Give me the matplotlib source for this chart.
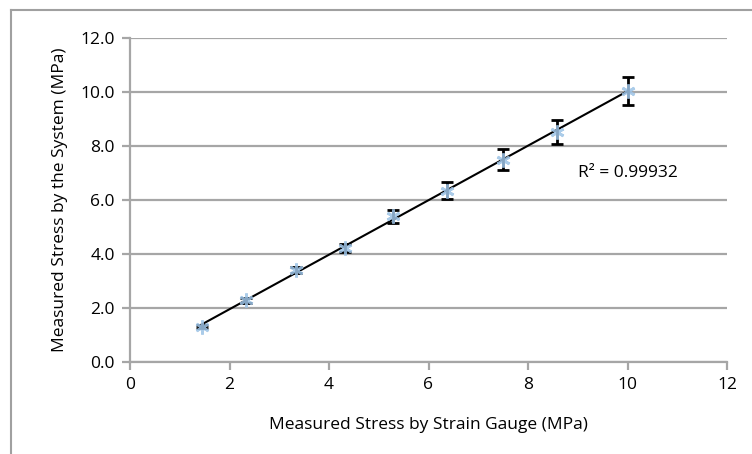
import numpy as np
import matplotlib
matplotlib.use("Agg")
import matplotlib.pyplot as plt
from matplotlib.lines import Line2D

plt.rcParams['font.family'] = ['Open Sans', 'DejaVu Sans']

# Data
strain_gauge = [1.44, 2.33, 3.33, 4.32, 5.29, 6.38, 7.50, 8.58, 10.0]
system_stress = [1.31, 2.28, 3.41, 4.23, 5.40, 6.35, 7.50, 8.53, 10.05]
errors = [0.06, 0.08, 0.12, 0.15, 0.24, 0.32, 0.38, 0.44, 0.52]
r2_label = "R² = 0.99932"
x_ticks = [0, 2, 4, 6, 8, 10, 12]
y_ticks = [0.0, 2.0, 4.0, 6.0, 8.0, 10.0, 12.0]

fig = plt.figure(figsize=(7.52, 4.54), dpi=100)
ax = fig.add_axes([130/752, 1-362/454, (727-130)/752, (362-38)/454])

grid_c = '#A6A6A6'
fs = 12.5
ax.set_xlim(0, 12)
ax.set_ylim(0, 12)
ax.set_xticks(x_ticks)
ax.set_yticks(y_ticks)
ax.set_xticklabels([str(t) for t in x_ticks])
ax.set_yticklabels([f"{t:.1f}" for t in y_ticks])
ax.yaxis.grid(True, color=grid_c, linewidth=1.6)
ax.set_axisbelow(True)
for s in ['top', 'right']:
    ax.spines[s].set_visible(False)
for s in ['left', 'bottom']:
    ax.spines[s].set_color(grid_c)
    ax.spines[s].set_linewidth(1.6)
ax.tick_params(axis='both', colors=grid_c, length=6, width=1.6, direction='out',
               labelcolor='black', labelsize=fs)
ax.tick_params(axis='x', pad=5)
ax.tick_params(axis='y', pad=5)

# trendline
coef = np.polyfit(strain_gauge, system_stress, 1)
xl = np.array([min(strain_gauge), max(strain_gauge)])
ax.plot(xl, np.polyval(coef, xl), color='black', linewidth=1.5, zorder=3)

ax.errorbar(strain_gauge, system_stress, yerr=errors, fmt='none', ecolor='black',
            elinewidth=2.0, capsize=4.5, capthick=2.0, zorder=4)
ax.plot(strain_gauge, system_stress, linestyle='none', marker=(6, 2, 0),
        markersize=10, markeredgewidth=2.0, color='#9DC3E6', zorder=5, alpha=0.85)

ax.text(9.0, 7.0, r2_label, ha='left', va='center', fontsize=fs, color='black')

ax.set_xlabel("Measured Stress by Strain Gauge (MPa)", fontsize=fs, labelpad=17)
ax.set_ylabel("Measured Stress by the System (MPa)", fontsize=fs, labelpad=9)

# outer frame lines (top and left)
fig.add_artist(Line2D([11/752, 1], [1-10/454, 1-10/454], color='#A0A0A0', linewidth=1.5,
                      transform=fig.transFigure))
fig.add_artist(Line2D([11/752, 11/752], [0, 1-10/454], color='#A0A0A0', linewidth=1.5,
                      transform=fig.transFigure))

fig.savefig("out.png", dpi=100)
